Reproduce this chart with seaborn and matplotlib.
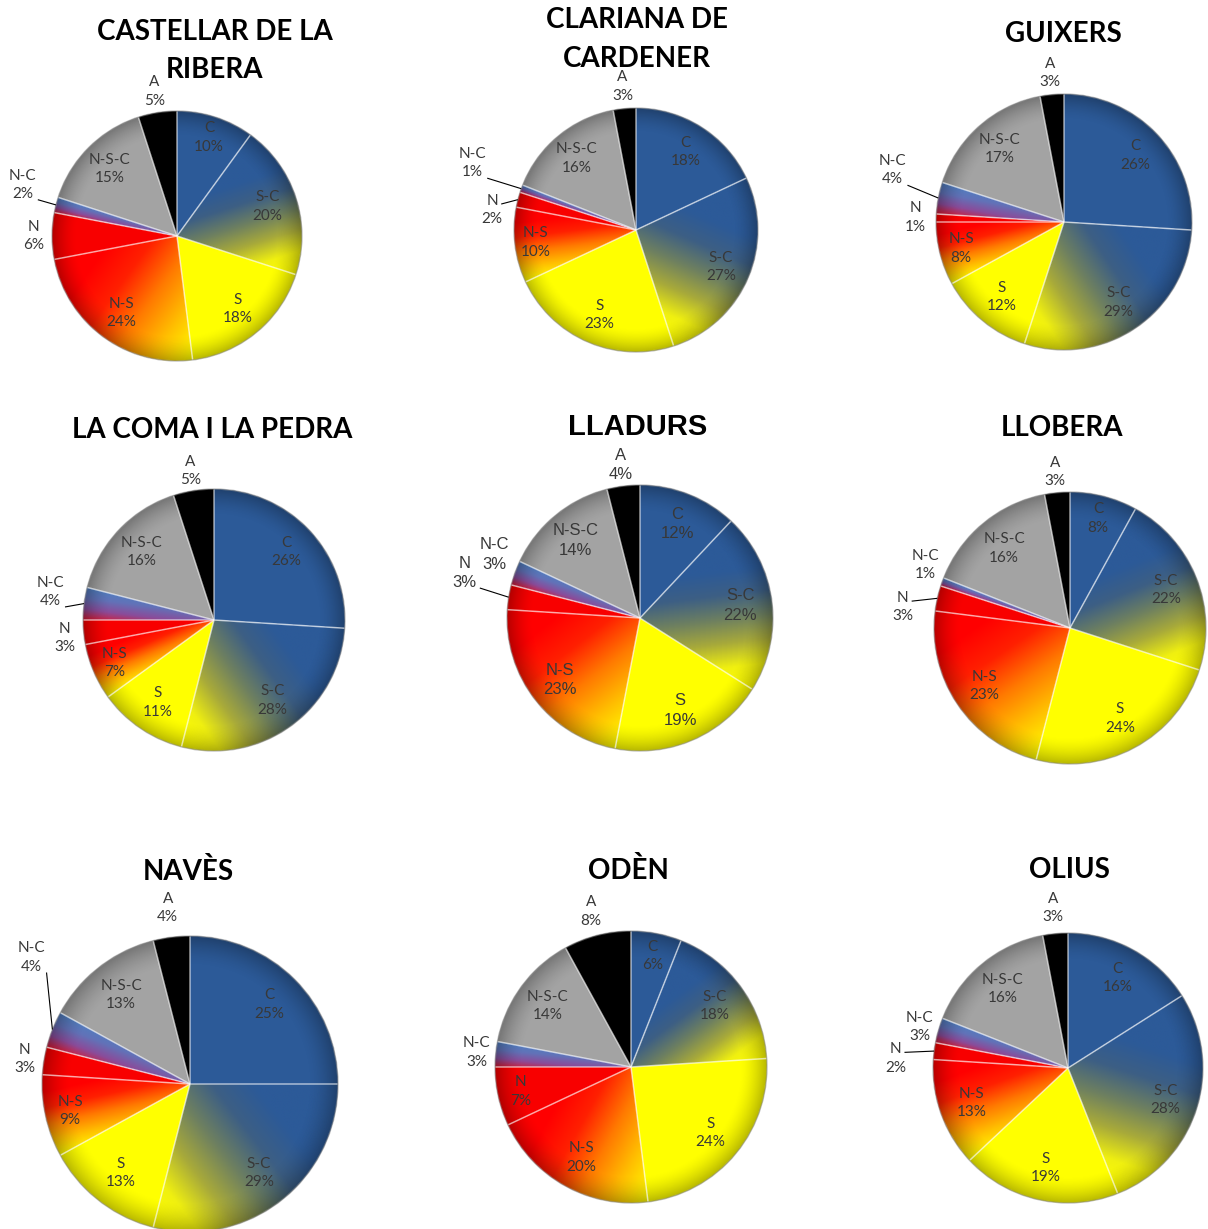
import numpy as np
import matplotlib
matplotlib.use("Agg")
import matplotlib.pyplot as plt
from matplotlib.patches import Circle
import seaborn as sns

# ---------------- data ----------------
CATEGORIES = ["C", "S-C", "S", "N-S", "N", "N-C", "N-S-C", "A"]
TITLES = ["CASTELLAR DE LA\nRIBERA", "CLARIANA DE\nCARDENER", "GUIXERS",
          "LA COMA I LA PEDRA", "LLADURS", "LLOBERA",
          "NAVÈS", "ODÈN", "OLIUS"]

castellar = [10, 20, 18, 24, 6, 2, 15, 5]
clariana = [18, 27, 23, 10, 2, 1, 16, 3]
guixers = [26, 29, 12, 8, 1, 4, 17, 3]
la_coma = [26, 28, 11, 7, 3, 4, 16, 5]
lladurs = [12, 22, 19, 23, 3, 3, 14, 4]
llobera = [8, 22, 24, 23, 3, 1, 16, 3]
naves = [25, 29, 13, 9, 3, 4, 13, 4]
oden = [6, 18, 24, 20, 7, 3, 14, 8]
olius = [16, 28, 19, 13, 2, 3, 16, 3]
SERIES = [castellar, clariana, guixers, la_coma, lladurs, llobera, naves, oden, olius]

# ---------------- style ----------------
sns.set_theme(style="white")
plt.rcParams["font.family"] = ["Lato", "DejaVu Sans"]

BLUE = "#2C5A98"
SOLID = {"C": BLUE, "S": "#FFFF00", "N": "#F80000", "N-S-C": "#A3A3A3", "A": "#000000"}
GRAD = {
    "S-C": sns.blend_palette([BLUE, BLUE, BLUE, "#3D5F84", "#6E8060", "#A8AA3A", "#F0F010", "#FFFF00"],
                             n_colors=256, as_cmap=True),
    "N-S": sns.blend_palette(["#FFFF00", "#FFC000", "#FF7A00", "#FF2000", "#FF0000", "#FF0000"],
                             n_colors=256, as_cmap=True),
    "N-C": sns.blend_palette(["#D8182E", "#8A4C9A", "#6272B8", "#4F7FC0"], n_colors=256, as_cmap=True),
}
TEXT_COLOR = "#383838"

W, H = 1208, 1229
# pixel layout per chart: centre, radius, title position, font
LAYOUT = [
    dict(cx=177, cy=236, r=125, tx=215, ty=[30, 68], font="Lato"),
    dict(cx=636, cy=230, r=122, tx=637, ty=[18, 57], font="Lato"),
    dict(cx=1064, cy=222, r=128, tx=1063, ty=[32], font="Lato"),
    dict(cx=214, cy=620, r=131, tx=212, ty=[428], font="Lato"),
    dict(cx=640, cy=618, r=133, tx=638, ty=[425], font="Liberation Sans"),
    dict(cx=1070, cy=628, r=136, tx=1062, ty=[426], font="Lato"),
    dict(cx=190, cy=1084, r=148, tx=188, ty=[870], font="Lato"),
    dict(cx=631, cy=1067, r=136, tx=628, ty=[869], font="Lato"),
    dict(cx=1068, cy=1068, r=135, tx=1069, ty=[868], font="Lato"),
]
# outside labels: category -> (radial factor, angle offset deg, leader anchor)
OUTSIDE = [
    {"N": (1.15, 0, None), "N-C": (1.30, -4, "br"), "A": (1.17, 0, None)},
    {"N": (1.19, 6.5, "r"), "N-C": (1.45, -2.4, "br"), "A": (1.18, 0, None)},
    {"N": (1.16, 0, None), "N-C": (1.40, -6, "br"), "A": (1.17, 0, None)},
    {"N": (1.15, 1.5, None), "N-C": (1.27, -2.5, "br"), "A": (1.15, 0, None)},
    {"N": (1.36, -5.4, "br"), "N-C": (1.19, -3.7, None), "A": (1.16, 0, None)},
    {"N": (1.24, 5.5, "r"), "N-C": (1.16, -3.7, None), "A": (1.15, 0, None)},
    {"N": (1.13, 0.4, None), "N-C": (1.37, -17, "br"), "A": (1.20, 0, None)},
    {"N-C": (1.14, 0, None), "A": (1.18, 0, None)},
    {"N": (1.28, 4, "r"), "N-C": (1.14, 0.7, None), "A": (1.19, 0, None)},
]
ANCHOR_PX = {"br": (15, -15), "r": (9, 6)}

fig = plt.figure(figsize=(W / 100, H / 100), dpi=100)
fig.patch.set_facecolor("white")

L = 1.75
g = np.linspace(-1, 1, 400)
GX, GY = np.meshgrid(g, g)


def add_gradient(ax, wedge, cmap):
    t1, t2 = np.deg2rad(wedge.theta1), np.deg2rad(wedge.theta2)
    mid = 0.5 * (t1 + t2)
    dx, dy = np.sin(mid), -np.cos(mid)
    ang = np.linspace(t1, t2, 120)
    px = np.concatenate([[0], np.cos(ang)])
    py = np.concatenate([[0], np.sin(ang)])
    proj = px * dx + py * dy
    pmin, pmax = proj.min(), proj.max()
    T = np.clip((GX * dx + GY * dy - pmin) / (pmax - pmin), 0, 1)
    im = ax.imshow(T, cmap=cmap, vmin=0, vmax=1, extent=(-1, 1, -1, 1),
                   origin="lower", interpolation="bilinear", zorder=2)
    im.set_clip_path(wedge)


for vals, title, lay, outside in zip(SERIES, TITLES, LAYOUT, OUTSIDE):
    cx, cy, r = lay["cx"], lay["cy"], lay["r"]
    ax = fig.add_axes([(cx - L * r) / W, 1 - (cy + L * r) / H, 2 * L * r / W, 2 * L * r / H])
    colors = [SOLID.get(c, "#FFFFFF") for c in CATEGORIES]
    wedges, _ = ax.pie(vals, colors=colors, startangle=90, counterclock=False,
                       radius=1.0, wedgeprops=dict(linewidth=0, zorder=1))
    for w, cat in zip(wedges, CATEGORIES):
        if cat in GRAD:
            add_gradient(ax, w, GRAD[cat])
    # rim shading
    R = np.hypot(GX, GY)
    shade = np.zeros((400, 400, 4))
    shade[..., 3] = np.clip((R - 0.80) / 0.20, 0, 1) ** 1.6 * 0.28
    im = ax.imshow(shade, extent=(-1, 1, -1, 1), origin="lower", zorder=3, interpolation="bilinear")
    im.set_clip_path(Circle((0, 0), 1.0, transform=ax.transData))
    # bevel edges
    ax.pie(vals, startangle=90, counterclock=False, radius=1.0,
           wedgeprops=dict(fill=False, edgecolor=(1, 1, 1, 0.35), linewidth=1.1, zorder=4))
    ax.add_patch(Circle((0, 0), 1.0, fill=False, edgecolor=(0, 0, 0, 0.25), linewidth=1.0, zorder=5))

    fam = [lay["font"], "DejaVu Sans"]
    lsize = 12 if lay["font"] == "Liberation Sans" else 11
    for w, cat, v in zip(wedges, CATEGORIES, vals):
        mid = 0.5 * (w.theta1 + w.theta2)
        txt = f"{cat}\n{v}%"
        if cat in outside:
            rf, dth, anchor = outside[cat]
            a = np.deg2rad(mid + dth)
            lx, ly = rf * np.cos(a), rf * np.sin(a)
            if anchor is not None:
                ox, oy = ANCHOR_PX[anchor]
                ex, ey = np.cos(np.deg2rad(mid)), np.sin(np.deg2rad(mid))
                ax.plot([lx + ox / r, ex], [ly + oy / r, ey], color="black", lw=0.8, zorder=6,
                        solid_capstyle="butt")
        else:
            rf = 0.83 if v <= 10 else 0.76
            a = np.deg2rad(mid)
            lx, ly = rf * np.cos(a), rf * np.sin(a)
        ax.text(lx, ly, txt, ha="center", va="center", fontsize=lsize, color=TEXT_COLOR,
                family=fam, linespacing=1.4, zorder=7)

    ax.set_xlim(-L, L)
    ax.set_ylim(-L, L)
    ax.set_aspect("auto")
    ax.axis("off")

    tsize = 21 if lay["font"] == "Liberation Sans" else 20
    for line, ty in zip(title.split("\n"), lay["ty"]):
        fig.text(lay["tx"] / W, 1 - (ty + 10) / H, line, ha="center", va="baseline",
                 fontsize=tsize, fontweight="bold", family=fam, color="black")

fig.savefig("out.png", dpi=100, facecolor="white")
